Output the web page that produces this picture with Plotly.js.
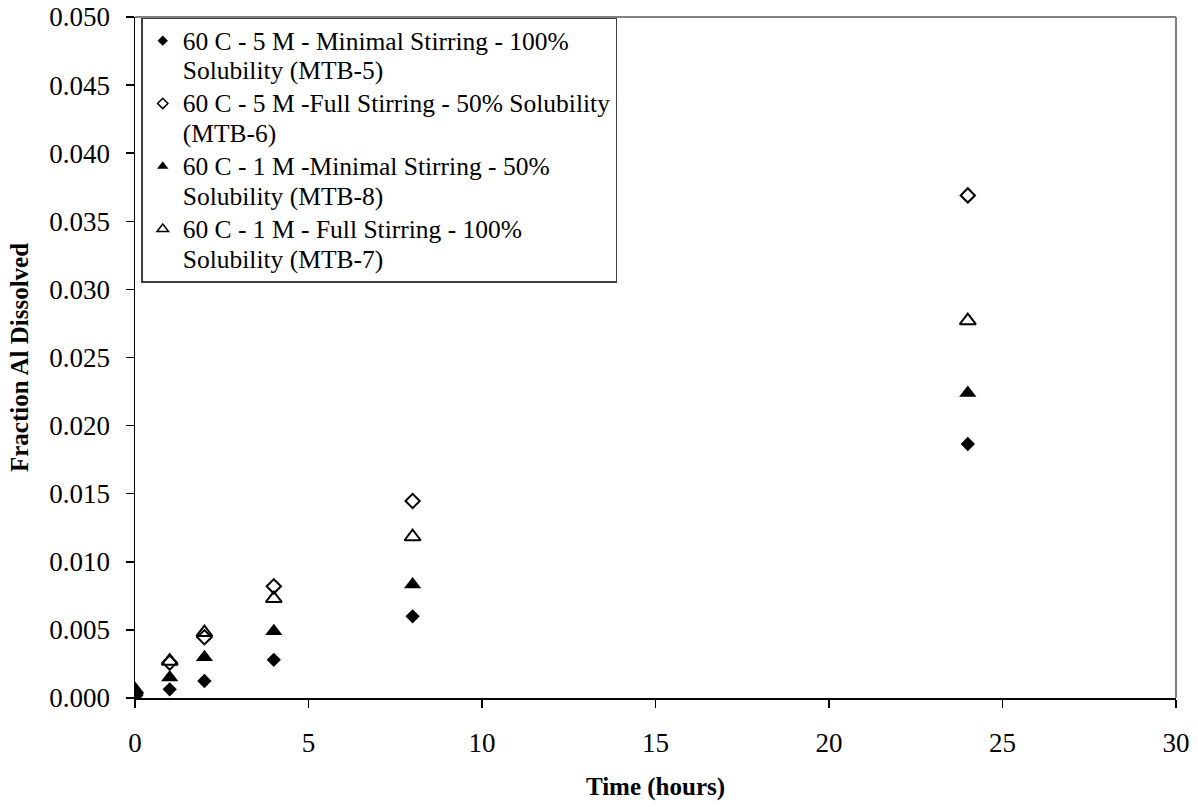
<!DOCTYPE html>
<html>
<head>
<meta charset="utf-8">
<script src="https://cdn.plot.ly/plotly-3.0.1.min.js"></script>
<style>html,body{margin:0;padding:0;background:#fff;}#chart{width:1198px;height:807px;}</style>
</head>
<body>
<div id="chart"></div>
<script>
const timeHours = [0, 1, 2, 4, 8, 24];
const mtb5 = [0.0002, 0.00064, 0.00125, 0.0028, 0.0060, 0.01865];
const mtb6 = [0.0002, 0.0026, 0.00446, 0.0082, 0.01446, 0.0369];
const mtb8 = [0.0006, 0.0015, 0.0030, 0.0049, 0.00833, 0.0224];
const mtb7 = [0.0006, 0.0027, 0.0048, 0.0073, 0.01184, 0.0277];
const seriesNames = [
  ["60 C - 5 M - Minimal Stirring - 100%", "Solubility (MTB-5)"],
  ["60 C - 5 M -Full Stirring - 50% Solubility", "(MTB-6)"],
  ["60 C - 1 M -Minimal Stirring - 50%", "Solubility (MTB-8)"],
  ["60 C - 1 M - Full Stirring - 100%", "Solubility (MTB-7)"]
];
const seriesValues = [mtb5, mtb6, mtb8, mtb7];
const symbols = ["diamond", "diamond-open", "triangle-up", "triangle-up-open"];
const plotSizes = [11, 11, 15, 14];
const legendSizes = [8, 8, 10, 10];

const big = s => '<span style="font-size:25.5px">' + s + '</span>';
const legendLabel = parts => parts.map(big).join("<br>");

const traces = [];
seriesValues.forEach((vals, i) => {
  traces.push({
    x: timeHours, y: vals, type: "scatter", mode: "markers",
    name: seriesNames[i].join(" "), showlegend: false,
    marker: {symbol: symbols[i], size: plotSizes[i], color: "#000",
             line: {color: "#000", width: symbols[i].endsWith("open") ? 2 : 0}}
  });
});
seriesValues.forEach((vals, i) => {
  traces.push({
    x: [null], y: [null], type: "scatter", mode: "markers",
    name: legendLabel(seriesNames[i]), showlegend: true,
    marker: {symbol: symbols[i], size: legendSizes[i], color: "#000",
             line: {color: "#000", width: symbols[i].endsWith("open") ? 1.5 : 0}}
  });
});

const font = "'Liberation Serif', 'Times New Roman', Times, serif";
const layout = {
  width: 1198, height: 807,
  margin: {l: 135, r: 22, t: 17, b: 109},
  paper_bgcolor: "#fff", plot_bgcolor: "#fff",
  font: {family: font, color: "#000", size: 27},
  showlegend: true,
  legend: {
    x: 0.006, y: 0.999, xanchor: "left", yanchor: "top",
    bgcolor: "#fff", bordercolor: "#404040", borderwidth: 1.5,
    font: {family: font, size: 23, color: "#000"},
    valign: "top", tracegroupgap: 0, itemwidth: 30
  },
  xaxis: {
    range: [0, 30], dtick: 5, tick0: 0,
    showgrid: false, zeroline: false,
    showline: true, linecolor: "#000", linewidth: 1.5,
    ticks: "outside", ticklen: 8, tickwidth: 1.5, tickcolor: "#000",
    ticklabelstandoff: 12,
    tickfont: {family: font, size: 27},
    title: {text: "<b>Time (hours)</b>", font: {family: font, size: 25}, standoff: 20}
  },
  yaxis: {
    range: [0, 0.05], dtick: 0.005, tick0: 0, tickformat: ".3f",
    showgrid: false, zeroline: false,
    showline: true, linecolor: "#000", linewidth: 1.5,
    ticks: "outside", ticklen: 8, tickwidth: 1.5, tickcolor: "#000",
    ticklabelstandoff: 10,
    tickfont: {family: font, size: 27},
    title: {text: "<b>Fraction Al Dissolved</b>", font: {family: font, size: 25}, standoff: 13}
  },
  shapes: [
    {type: "line", xref: "paper", yref: "paper", x0: 0, x1: 1, y0: 1, y1: 1, line: {color: "#808080", width: 2}},
    {type: "line", xref: "paper", yref: "paper", x0: 1, x1: 1, y0: 0, y1: 1, line: {color: "#808080", width: 2}}
  ]
};

Plotly.newPlot("chart", traces, layout, {displayModeBar: false, staticPlot: true});
</script>
</body>
</html>
